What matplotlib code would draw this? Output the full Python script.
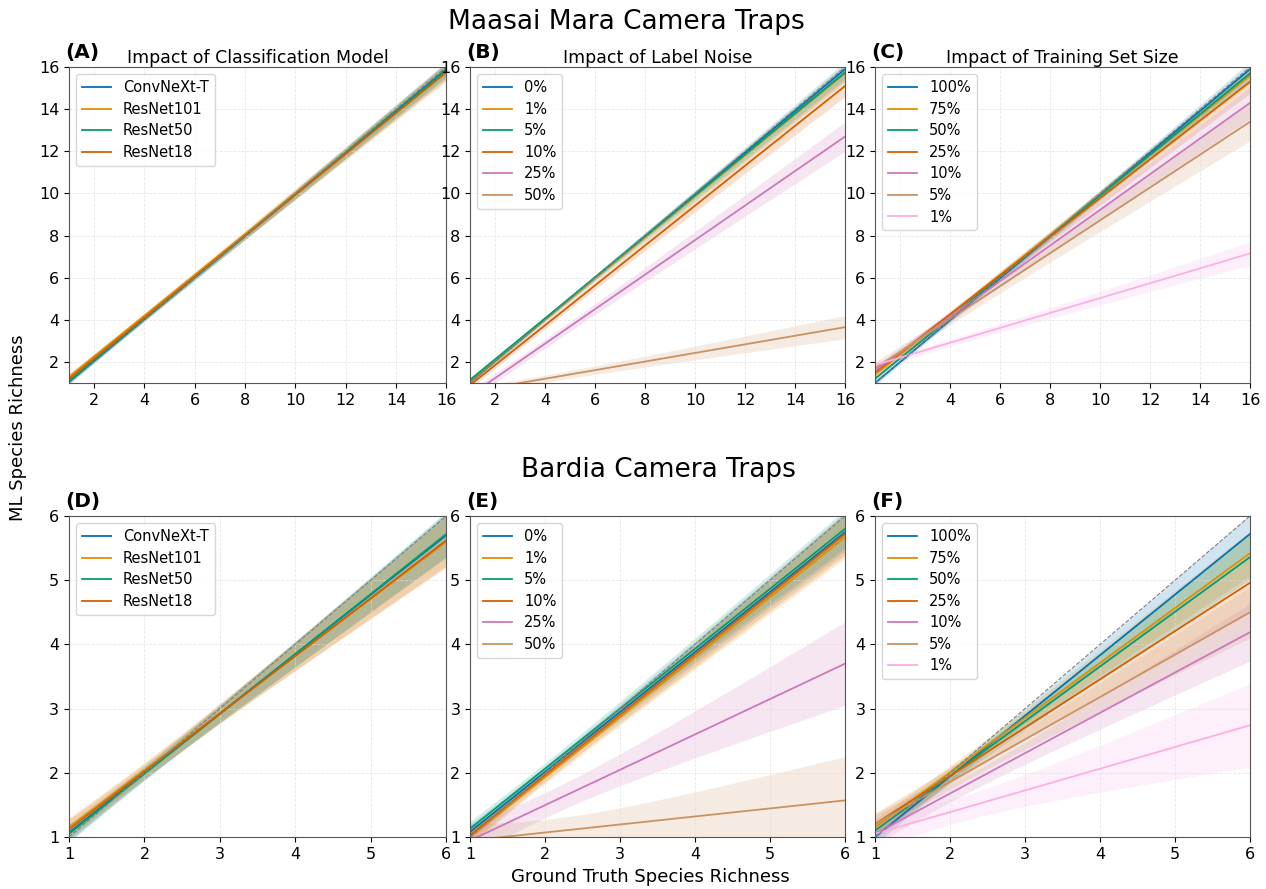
import numpy as np
import matplotlib
matplotlib.use("Agg")
import matplotlib.pyplot as plt

# colorblind palette (seaborn)
colors = ['#0173b2', '#de8f05', '#029e73', '#d55e00', '#cc78bc', '#ca9161', '#fbafe4']

# ---- Maasai Mara (x range 1..16) ----
models = ['ConvNeXt-T', 'ResNet101', 'ResNet50', 'ResNet18']
a_start = [1.05, 1.30, 1.10, 1.20]
a_end = [15.90, 15.80, 15.85, 15.75]
a_ci = [0.35, 0.40, 0.35, 0.40]

noise = ['0%', '1%', '5%', '10%', '25%', '50%']
b_start = [1.05, 1.10, 1.15, 0.90, 0.41, 0.59]
b_end = [15.90, 15.70, 15.75, 15.10, 12.70, 3.65]
b_ci = [0.35, 0.40, 0.35, 0.50, 0.70, 0.55]

sizes = ['100%', '75%', '50%', '25%', '10%', '5%', '1%']
c_start = [1.00, 1.40, 1.20, 1.50, 1.60, 1.70, 1.85]
c_end = [15.90, 15.60, 15.70, 15.30, 14.30, 13.40, 7.15]
c_ci = [0.35, 0.40, 0.35, 0.55, 0.75, 0.90, 0.55]

# ---- Bardia (x range 1..6) ----
d_start = [1.07, 1.15, 1.05, 1.12]
d_end = [5.70, 5.60, 5.72, 5.62]
d_ci = [0.35, 0.40, 0.35, 0.40]

e_start = [1.08, 1.00, 1.13, 1.03, 0.945, 0.945]
e_end = [5.75, 5.67, 5.80, 5.72, 3.70, 1.57]
e_ci = [0.30, 0.33, 0.30, 0.33, 0.65, 0.68]

f_start = [1.00, 1.15, 1.10, 1.20, 1.05, 1.20, 1.05]
f_end = [5.72, 5.42, 5.36, 4.96, 4.19, 4.50, 2.74]
f_ci = [0.30, 0.35, 0.35, 0.45, 0.45, 0.40, 0.65]

panels = [
    ('(A)', 'Impact of Classification Model', models, a_start, a_end, a_ci, 16),
    ('(B)', 'Impact of Label Noise', noise, b_start, b_end, b_ci, 16),
    ('(C)', 'Impact of Training Set Size', sizes, c_start, c_end, c_ci, 16),
    ('(D)', '', models, d_start, d_end, d_ci, 6),
    ('(E)', '', noise, e_start, e_end, e_ci, 6),
    ('(F)', '', sizes, f_start, f_end, f_ci, 6),
]

fig = plt.figure(figsize=(12.66, 8.89), dpi=100)

lefts = [0.0545, 0.3713, 0.6912]
widths = [0.298, 0.2962, 0.2962]
bottoms = [0.5692, 0.0585]
heights = [0.3554, 0.3611]

for i, (letter, title, names, ys, ye, ci, xmax) in enumerate(panels):
    row, col = divmod(i, 3)
    ax = fig.add_axes([lefts[col], bottoms[row], widths[col], heights[row]])
    x = np.linspace(1, xmax, 200)
    xc = 3.0 if xmax == 16 else 2.0
    for j, name in enumerate(names):
        y = ys[j] + (ye[j] - ys[j]) * (x - 1) / (xmax - 1)
        wmin = ci[j] * 0.3
        k = (ci[j] ** 2 - wmin ** 2) / (xmax - xc) ** 2
        w = np.sqrt(wmin ** 2 + k * (x - xc) ** 2)
        ax.fill_between(x, y - w, y + w, color=colors[j], alpha=0.18, lw=0)
        ax.plot(x, y, color=colors[j], lw=1.3, label=name)
    ax.plot([1, xmax], [1, xmax], ls='--', color='gray', lw=0.8)
    ax.set_xlim(1, xmax)
    ax.set_ylim(1, xmax)
    if xmax == 16:
        ax.set_xticks(np.arange(2, 17, 2))
        ax.set_yticks(np.arange(2, 17, 2))
    else:
        ax.set_xticks(np.arange(1, 7))
        ax.set_yticks(np.arange(1, 7))
    ax.tick_params(labelsize=11.5)
    ax.grid(True, color='#dddddd', lw=0.6, ls='--', alpha=0.7)
    for sp in ax.spines.values():
        sp.set_color('#555555')
    ax.legend(loc='upper left', fontsize=10.5, labelspacing=0.45)
    if title:
        ax.set_title(title, fontsize=12.5, pad=3)
    ax.text(-0.01, 1.015, letter, transform=ax.transAxes, fontsize=14.5,
            fontweight='bold', ha='left', va='bottom')

fig.text(0.495, 0.975, 'Maasai Mara Camera Traps', ha='center', va='center', fontsize=19)
fig.text(0.52, 0.471, 'Bardia Camera Traps', ha='center', va='center', fontsize=19)
fig.text(0.014, 0.519, 'ML Species Richness', rotation=90, ha='center', va='center', fontsize=13)
fig.text(0.514, 0.014, 'Ground Truth Species Richness', ha='center', va='center', fontsize=13)

fig.savefig('out.png', dpi=100)
